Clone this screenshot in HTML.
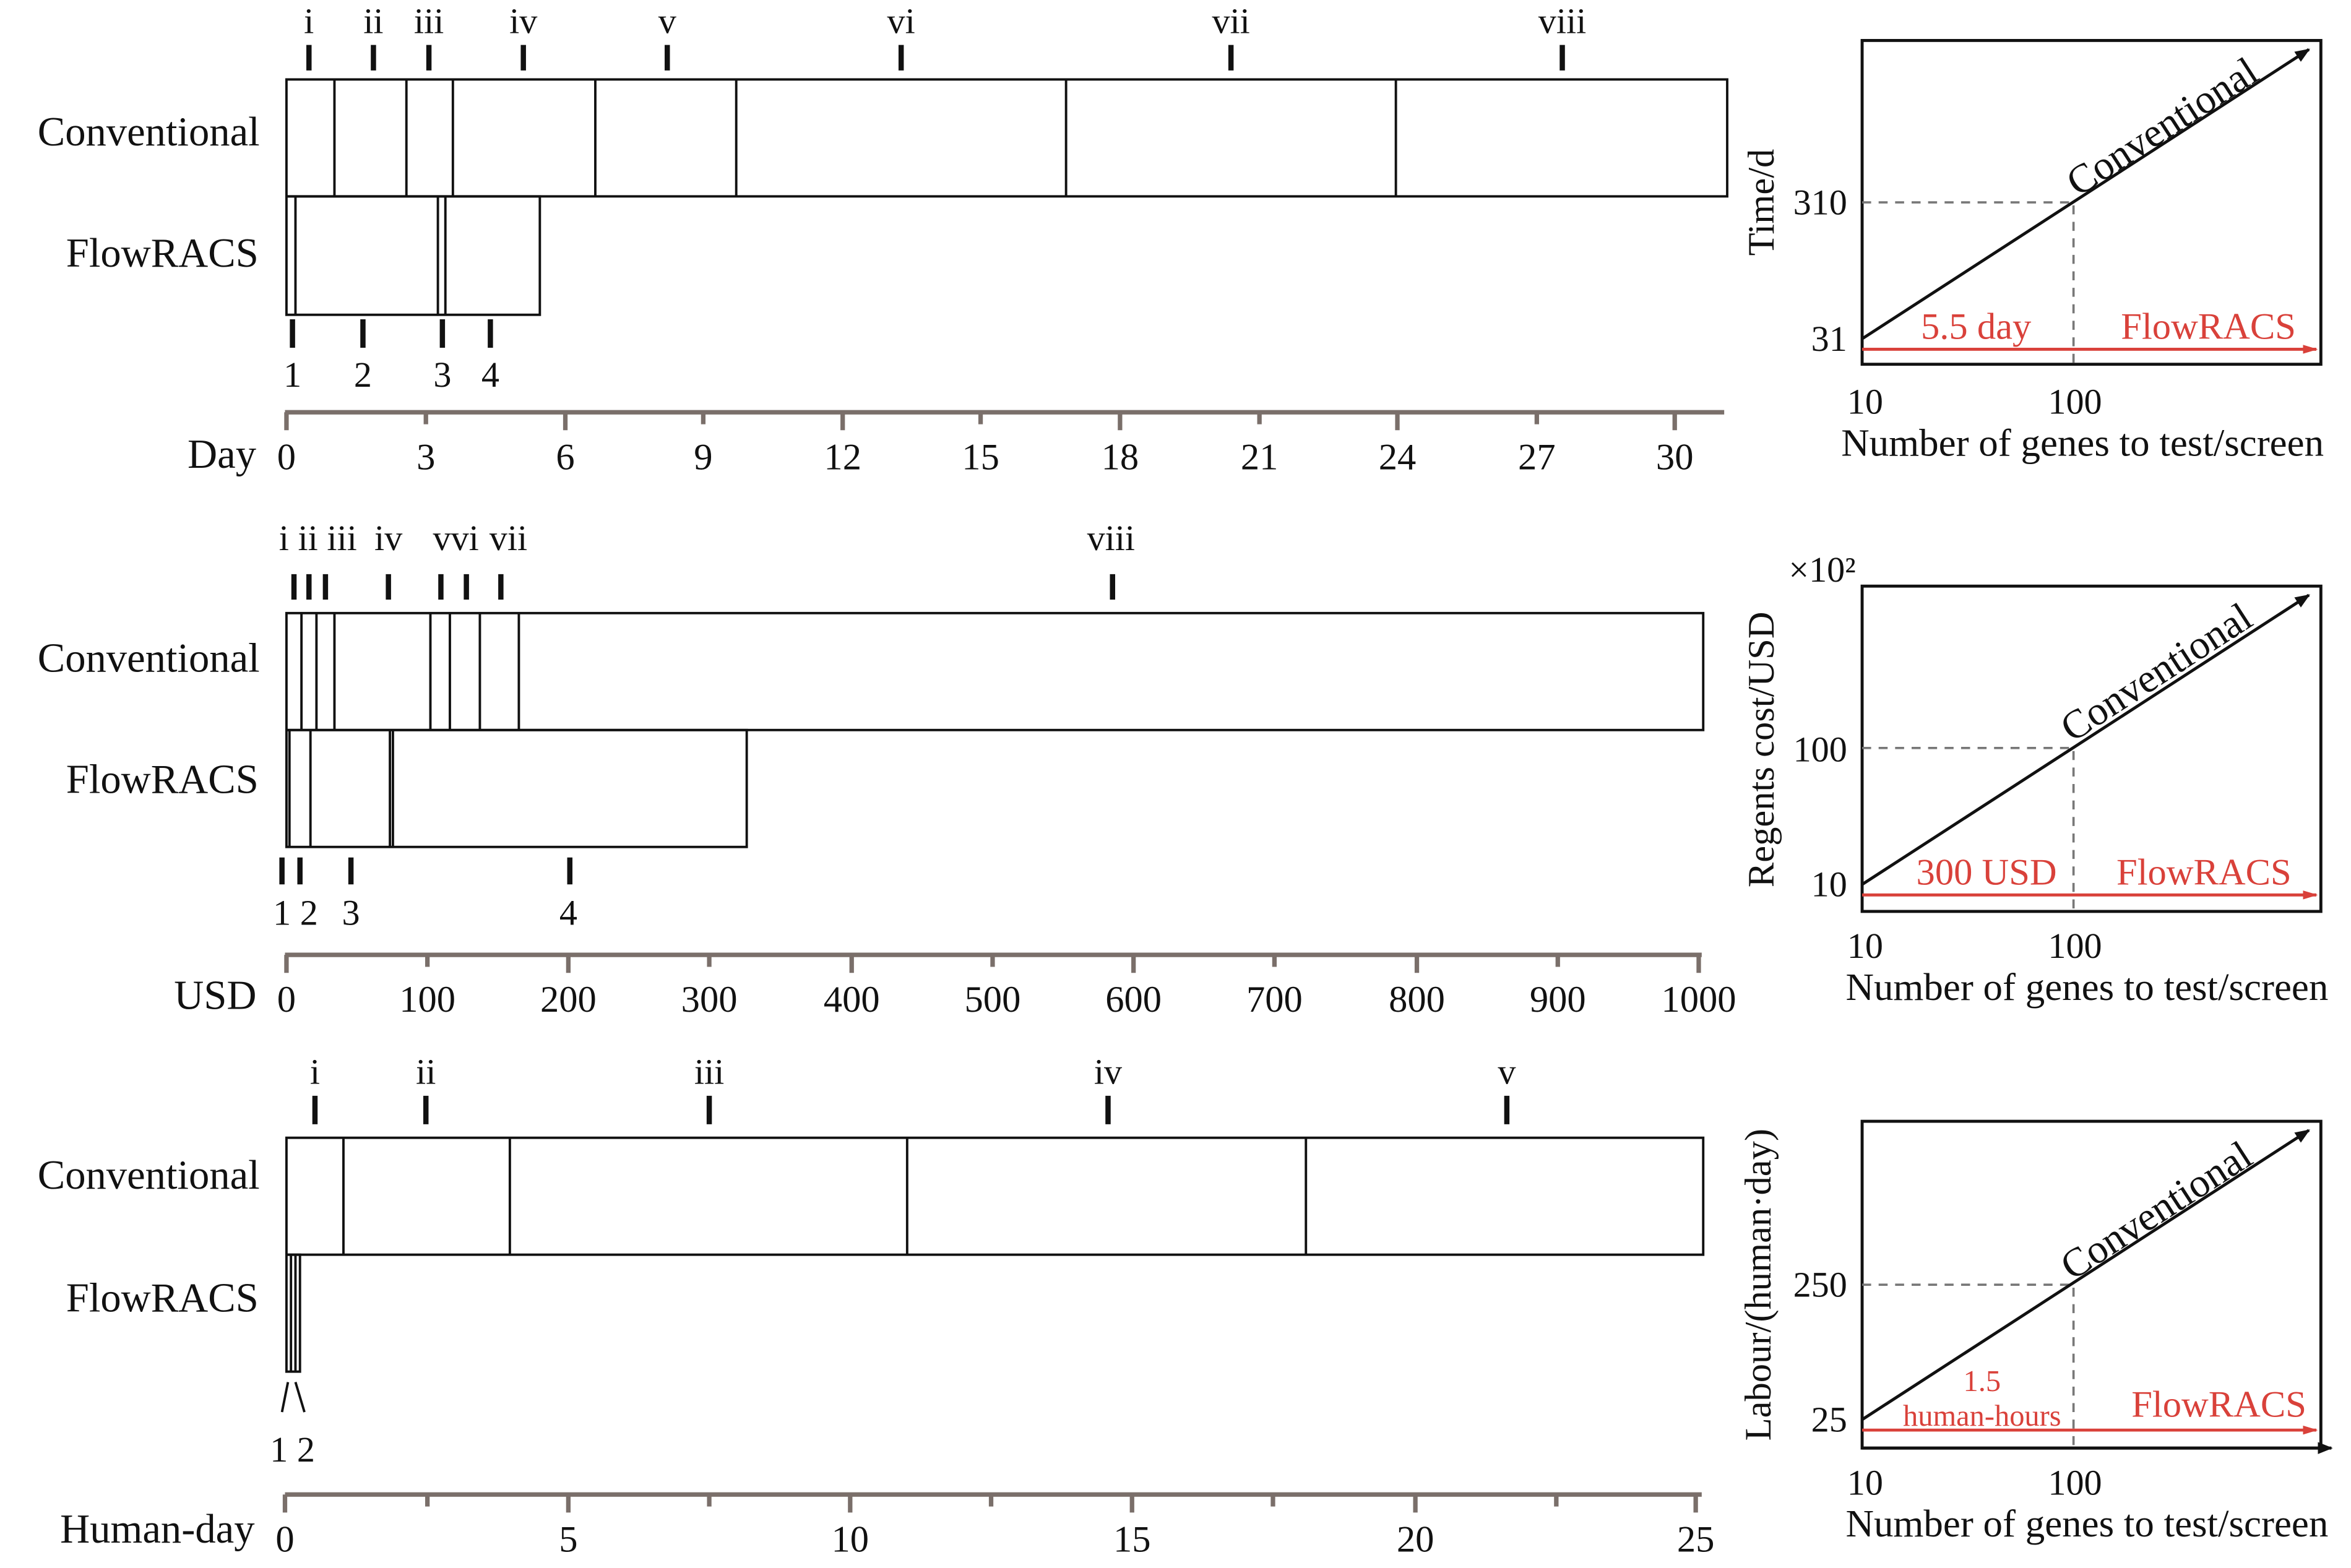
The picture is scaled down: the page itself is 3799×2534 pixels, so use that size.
<!DOCTYPE html>
<html><head><meta charset="utf-8"><style>
html,body{margin:0;padding:0;background:#fff}
svg{display:block}
text{font-family:"Liberation Serif",serif;fill:#111}
.r{fill:#d9413a}
</style></head><body>
<svg width="3799" height="2534" viewBox="0 0 1568 1046" xmlns="http://www.w3.org/2000/svg">
<defs>
<marker id="ab" markerWidth="10" markerHeight="10" refX="9" refY="5" orient="auto" markerUnits="userSpaceOnUse"><path d="M0,1 L10,5 L0,9 z" fill="#111"/></marker>
<marker id="ar" markerWidth="10" markerHeight="10" refX="9" refY="5" orient="auto" markerUnits="userSpaceOnUse"><path d="M0,2 L10,5 L0,8 z" fill="#d9413a"/></marker>
</defs>
<g stroke="#111" stroke-width="1.6" fill="none">
<rect x="191" y="53" width="961" height="78"/>
<path d="M223 53V131M271 53V131M302 53V131M397 53V131M491 53V131M711 53V131M931 53V131"/>
<rect x="191" y="131" width="169" height="79"/>
<path d="M197 131V210M292 131V210M297 131V210"/>
<rect x="191" y="409" width="945" height="78"/>
<path d="M201 409V487M211 409V487M223 409V487M287 409V487M300 409V487M320 409V487M346 409V487"/>
<rect x="191" y="487" width="307" height="78"/>
<path d="M193 487V565M207 487V565M260 487V565M262 487V565"/>
<rect x="191" y="759" width="945" height="78"/>
<path d="M229 759V837M340 759V837M605 759V837M871 759V837"/>
<rect x="191" y="837" width="9" height="78"/>
<path d="M194 837V915M197 837V915"/>
<path d="M192 922 L188 942 M197 922 L203 942"/>
</g>
<g stroke="#111" stroke-width="3.5">
<path d="M206 30V47M249 30V47M286 30V47M349 30V47M445 30V47M601 30V47M821 30V47M1042 30V47"/>
<path d="M195 213V232M242 213V232M295 213V232M327 213V232"/>
<path d="M196 383V400M206 383V400M217 383V400M259 383V400M294 383V400M311 383V400M334 383V400M742 383V400"/>
<path d="M188 572V590M200 572V590M234 572V590M380 572V590"/>
<path d="M210 731V750M284 731V750M473 731V750M739 731V750M1005 731V750"/>
</g>
<g font-size="24">
<g text-anchor="middle">
<text x="206" y="22">i</text><text x="249" y="22">ii</text><text x="286" y="22">iii</text><text x="349" y="22">iv</text><text x="445" y="22">v</text><text x="601" y="22">vi</text><text x="821" y="22">vii</text><text x="1042" y="22">viii</text>
<text x="195" y="258">1</text><text x="242" y="258">2</text><text x="295" y="258">3</text><text x="327" y="258">4</text>
<text x="212" y="367">i ii iii</text><text x="259" y="367">iv</text><text x="304" y="367">vvi</text><text x="339" y="367">vii</text><text x="741" y="367">viii</text>
<text x="197" y="617">1 2</text><text x="234" y="617">3</text><text x="379" y="617">4</text>
<text x="210" y="723">i</text><text x="284" y="723">ii</text><text x="473" y="723">iii</text><text x="739" y="723">iv</text><text x="1005" y="723">v</text>
<text x="195" y="975">1 2</text>
</g>
<g font-size="27.5">
<text x="25" y="97">Conventional</text><text x="44" y="178">FlowRACS</text>
<text x="25" y="448">Conventional</text><text x="44" y="529">FlowRACS</text>
<text x="25" y="793">Conventional</text><text x="44" y="875">FlowRACS</text>
<text x="125" y="312">Day</text><text x="116" y="673">USD</text><text x="40" y="1029">Human-day</text>
</g>
</g>
<g stroke="#7a6f6a" stroke-width="3">
<path d="M190 275H1150"/>
<path d="M191 275V287M284 275V283M377 275V287M469 275V283M562 275V287M654 275V283M747 275V287M840 275V283M932 275V287M1025 275V283M1117 275V287"/>
<path d="M190 637H1135"/>
<path d="M191 637V649M285 637V645M379 637V649M473 637V645M568 637V649M662 637V645M756 637V649M850 637V645M945 637V649M1039 637V645M1133 637V649"/>
<path d="M190 997H1135"/>
<path d="M190 997V1009M285 997V1005M379 997V1009M473 997V1005M567 997V1009M661 997V1005M755 997V1009M849 997V1005M944 997V1009M1038 997V1005M1131 997V1009"/>
</g>
<g font-size="25" text-anchor="middle">
<text x="191" y="313">0</text><text x="284" y="313">3</text><text x="377" y="313">6</text><text x="469" y="313">9</text><text x="562" y="313">12</text><text x="654" y="313">15</text><text x="747" y="313">18</text><text x="840" y="313">21</text><text x="932" y="313">24</text><text x="1025" y="313">27</text><text x="1117" y="313">30</text>
<text x="191" y="675">0</text><text x="285" y="675">100</text><text x="379" y="675">200</text><text x="473" y="675">300</text><text x="568" y="675">400</text><text x="662" y="675">500</text><text x="756" y="675">600</text><text x="850" y="675">700</text><text x="945" y="675">800</text><text x="1039" y="675">900</text><text x="1133" y="675">1000</text>
<text x="190" y="1035">0</text><text x="379" y="1035">5</text><text x="567" y="1035">10</text><text x="755" y="1035">15</text><text x="944" y="1035">20</text><text x="1131" y="1035">25</text>
</g>
<g>
<rect x="1242" y="27" width="306" height="216" fill="none" stroke="#111" stroke-width="2"/>
<path d="M1242 135H1383V243" fill="none" stroke="#777" stroke-width="1.5" stroke-dasharray="6,5"/>
<path d="M1242 226L1540 33" stroke="#111" stroke-width="2" marker-end="url(#ab)"/>
<path d="M1242 233H1545" stroke="#d9413a" stroke-width="2" marker-end="url(#ar)"/>
<text x="1447" y="92" font-size="27" text-anchor="middle" transform="rotate(-33 1447 92)">Conventional</text>
<text x="1318" y="226" font-size="25" class="r" text-anchor="middle">5.5 day</text>
<text x="1473" y="226" font-size="25" class="r" text-anchor="middle">FlowRACS</text>
<text x="1232" y="143" font-size="24" text-anchor="end">310</text><text x="1232" y="234" font-size="24" text-anchor="end">31</text>
<text x="1244" y="276" font-size="24" text-anchor="middle">10</text><text x="1384" y="276" font-size="24" text-anchor="middle">100</text>
<text x="1389" y="304" font-size="26" text-anchor="middle">Number of genes to test/screen</text>
<text x="1183" y="135" font-size="25" text-anchor="middle" transform="rotate(-90 1183 135)">Time/d</text>
</g>
<g>
<rect x="1242" y="391" width="306" height="217" fill="none" stroke="#111" stroke-width="2"/>
<path d="M1242 499H1383V608" fill="none" stroke="#777" stroke-width="1.5" stroke-dasharray="6,5"/>
<path d="M1242 590L1540 397" stroke="#111" stroke-width="2" marker-end="url(#ab)"/>
<path d="M1242 597H1545" stroke="#d9413a" stroke-width="2" marker-end="url(#ar)"/>
<text x="1443" y="456" font-size="27" text-anchor="middle" transform="rotate(-33 1443 456)">Conventional</text>
<text x="1325" y="590" font-size="25" class="r" text-anchor="middle">300 USD</text>
<text x="1470" y="590" font-size="25" class="r" text-anchor="middle">FlowRACS</text>
<text x="1232" y="508" font-size="24" text-anchor="end">100</text><text x="1232" y="598" font-size="24" text-anchor="end">10</text>
<text x="1193" y="388" font-size="24">×10²</text>
<text x="1244" y="639" font-size="24" text-anchor="middle">10</text><text x="1384" y="639" font-size="24" text-anchor="middle">100</text>
<text x="1392" y="667" font-size="26" text-anchor="middle">Number of genes to test/screen</text>
<text x="1183" y="500" font-size="25" text-anchor="middle" transform="rotate(-90 1183 500)">Regents cost/USD</text>
</g>
<g>
<rect x="1242" y="748" width="306" height="218" fill="none" stroke="#111" stroke-width="2"/>
<path d="M1242 857H1383V966" fill="none" stroke="#777" stroke-width="1.5" stroke-dasharray="6,5"/>
<path d="M1242 947L1540 754" stroke="#111" stroke-width="2" marker-end="url(#ab)"/>
<path d="M1242 954H1545" stroke="#d9413a" stroke-width="2" marker-end="url(#ar)"/>
<path d="M1242 966H1555" stroke="#111" stroke-width="2" marker-end="url(#ab)"/>
<text x="1443" y="815" font-size="27" text-anchor="middle" transform="rotate(-33 1443 815)">Conventional</text>
<text x="1322" y="928" font-size="20" class="r" text-anchor="middle">1.5</text>
<text x="1322" y="951" font-size="20" class="r" text-anchor="middle">human-hours</text>
<text x="1480" y="945" font-size="25" class="r" text-anchor="middle">FlowRACS</text>
<text x="1232" y="865" font-size="24" text-anchor="end">250</text><text x="1232" y="955" font-size="24" text-anchor="end">25</text>
<text x="1244" y="997" font-size="24" text-anchor="middle">10</text><text x="1384" y="997" font-size="24" text-anchor="middle">100</text>
<text x="1392" y="1025" font-size="26" text-anchor="middle">Number of genes to test/screen</text>
<text x="1181" y="857" font-size="25" text-anchor="middle" transform="rotate(-90 1181 857)">Labour/(human·day)</text>
</g>
</svg>
</body></html>
